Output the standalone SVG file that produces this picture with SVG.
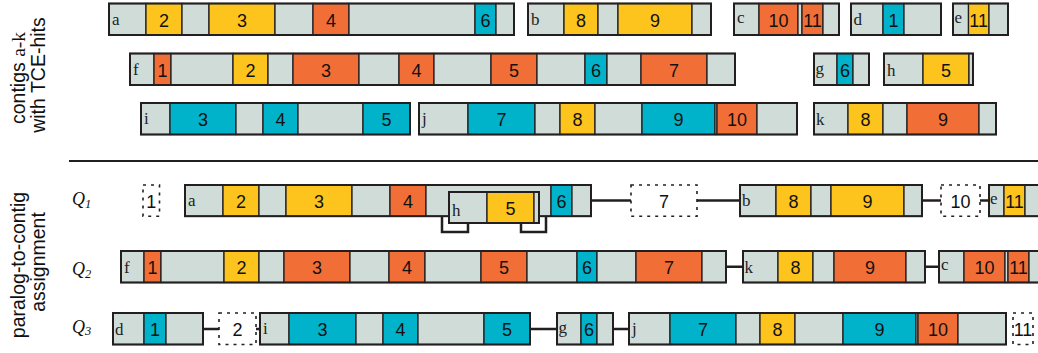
<svg xmlns="http://www.w3.org/2000/svg" width="1038" height="353" viewBox="0 0 1038 353">
<style>
rect{stroke:#231f20;stroke-width:1.3}
.g{fill:#d0dcd8}.y{fill:#fdc41e}.o{fill:#f26e37}.c{fill:#00b3cb}
.out{fill:none;stroke:#231f20;stroke-width:2}
.dot{fill:none;stroke:#231f20;stroke-width:1.6;stroke-dasharray:3 5}
.n{font-family:"Liberation Sans",Arial,sans-serif;font-size:18px;fill:#111;text-anchor:middle}
.l{font-family:"Liberation Serif","Times New Roman",serif;font-size:17px;fill:#222}
.side{font-family:"Liberation Sans",Arial,sans-serif;font-size:19.5px;fill:#111;text-anchor:middle}
.q{font-family:"Liberation Serif","Times New Roman",serif;font-style:italic;font-size:18px;fill:#111}
.con{stroke:#231f20;stroke-width:2.5;fill:none}
</style>
<g id="labels">
<text class="side" transform="translate(24.5,78) rotate(-90)">contigs <tspan font-family="Liberation Serif, serif">a-k</tspan></text>
<text class="side" transform="translate(45,75) rotate(-90)">with TCE-hits</text>
<text class="side" transform="translate(24.5,265) rotate(-90)">paralog-to-contig</text>
<text class="side" transform="translate(44.5,262) rotate(-90)">assignment</text>
<text class="q" x="72" y="205">Q<tspan font-size="12.5" dy="2.5">1</tspan></text>
<text class="q" x="72" y="275">Q<tspan font-size="12.5" dy="2.5">2</tspan></text>
<text class="q" x="72" y="332.5">Q<tspan font-size="12.5" dy="2.5">3</tspan></text>
</g>
<line x1="69" y1="161" x2="1038" y2="161" stroke="#231f20" stroke-width="2"/>

<!-- Row 1 -->
<g id="top-a">
<rect class="g" x="109" y="3.5" width="37" height="31.5"/><rect class="y" x="146" y="3.5" width="36" height="31.5"/><rect class="g" x="182" y="3.5" width="27" height="31.5"/><rect class="y" x="209" y="3.5" width="66" height="31.5"/><rect class="g" x="275" y="3.5" width="38" height="31.5"/><rect class="o" x="313" y="3.5" width="36" height="31.5"/><rect class="g" x="349" y="3.5" width="126" height="31.5"/><rect class="c" x="475" y="3.5" width="21" height="31.5"/><rect class="g" x="496" y="3.5" width="18" height="31.5"/>
<rect class="out" x="109" y="3.5" width="405" height="31.5"/>
<text class="l" x="112" y="24.5">a</text><text class="n" x="164" y="26.5">2</text><text class="n" x="242" y="26.5">3</text><text class="n" x="331" y="26.5">4</text><text class="n" x="485.5" y="26.5">6</text>
</g>
<g id="top-b">
<rect class="g" x="528" y="3.5" width="36" height="31.5"/><rect class="y" x="564" y="3.5" width="34" height="31.5"/><rect class="g" x="598" y="3.5" width="20" height="31.5"/><rect class="y" x="618" y="3.5" width="74" height="31.5"/><rect class="g" x="692" y="3.5" width="19" height="31.5"/>
<rect class="out" x="528" y="3.5" width="183" height="31.5"/>
<text class="l" x="531" y="24.5">b</text><text class="n" x="581" y="26.5">8</text><text class="n" x="655" y="26.5">9</text>
</g>
<g id="top-c">
<rect class="g" x="734" y="3.5" width="25" height="31.5"/><rect class="o" x="759" y="3.5" width="39" height="31.5"/><rect class="g" x="798" y="3.5" width="4" height="31.5"/><rect class="o" x="802" y="3.5" width="21" height="31.5"/><rect class="g" x="823" y="3.5" width="16" height="31.5"/>
<rect class="out" x="734" y="3.5" width="105" height="31.5"/>
<text class="l" x="737" y="22.5">c</text><text class="n" x="778.5" y="26.5">10</text><text class="n" x="812.5" y="26.5">11</text>
</g>
<g id="top-d">
<rect class="g" x="851" y="3.5" width="32" height="31.5"/><rect class="c" x="883" y="3.5" width="21" height="31.5"/><rect class="g" x="904" y="3.5" width="37" height="31.5"/>
<rect class="out" x="851" y="3.5" width="90" height="31.5"/>
<text class="l" x="853.5" y="24.5">d</text><text class="n" x="893.5" y="26.5">1</text>
</g>
<g id="top-e">
<rect class="g" x="953" y="3.5" width="15.5" height="31.5"/><rect class="y" x="968.5" y="3.5" width="20.5" height="31.5"/><rect class="g" x="989" y="3.5" width="19" height="31.5"/>
<rect class="out" x="953" y="3.5" width="55" height="31.5"/>
<text class="l" x="954.5" y="22.5">e</text><text class="n" x="978.7" y="26.5">11</text>
</g>

<!-- Row 2 -->
<g id="top-f">
<rect class="g" x="130" y="53.5" width="24" height="31.5"/><rect class="o" x="154" y="53.5" width="17" height="31.5"/><rect class="g" x="171" y="53.5" width="62" height="31.5"/><rect class="y" x="233" y="53.5" width="35" height="31.5"/><rect class="g" x="268" y="53.5" width="25" height="31.5"/><rect class="o" x="293" y="53.5" width="66" height="31.5"/><rect class="g" x="359" y="53.5" width="40" height="31.5"/><rect class="o" x="399" y="53.5" width="35" height="31.5"/><rect class="g" x="434" y="53.5" width="57" height="31.5"/><rect class="o" x="491" y="53.5" width="46" height="31.5"/><rect class="g" x="537" y="53.5" width="48" height="31.5"/><rect class="c" x="585" y="53.5" width="22" height="31.5"/><rect class="g" x="607" y="53.5" width="34" height="31.5"/><rect class="o" x="641" y="53.5" width="66" height="31.5"/><rect class="g" x="707" y="53.5" width="28" height="31.5"/>
<rect class="out" x="130" y="53.5" width="605" height="31.5"/>
<text class="l" x="133" y="75">f</text><text class="n" x="162.5" y="76.5">1</text><text class="n" x="250.5" y="76.5">2</text><text class="n" x="326" y="76.5">3</text><text class="n" x="416.5" y="76.5">4</text><text class="n" x="514" y="76.5">5</text><text class="n" x="596" y="76.5">6</text><text class="n" x="674" y="76.5">7</text>
</g>
<g id="top-g">
<rect class="g" x="814" y="53.5" width="23" height="31.5"/><rect class="c" x="837" y="53.5" width="16" height="31.5"/><rect class="g" x="853" y="53.5" width="16" height="31.5"/>
<rect class="out" x="814" y="53.5" width="55" height="31.5"/>
<text class="l" x="815.5" y="73.5">g</text><text class="n" x="845" y="76.5">6</text>
</g>
<g id="top-h">
<rect class="g" x="884" y="53.5" width="39" height="31.5"/><rect class="y" x="923" y="53.5" width="46" height="31.5"/><rect class="g" x="969" y="53.5" width="4" height="31.5"/>
<rect class="out" x="884" y="53.5" width="89" height="31.5"/>
<text class="l" x="887" y="76">h</text><text class="n" x="946" y="76.5">5</text>
</g>

<!-- Row 3 -->
<g id="top-i">
<rect class="g" x="141" y="103" width="29" height="31.5"/><rect class="c" x="170" y="103" width="66" height="31.5"/><rect class="g" x="236" y="103" width="27" height="31.5"/><rect class="c" x="263" y="103" width="35" height="31.5"/><rect class="g" x="298" y="103" width="65" height="31.5"/><rect class="c" x="363" y="103" width="47" height="31.5"/>
<rect class="out" x="141" y="103" width="269" height="31.5"/>
<text class="l" x="144" y="124">i</text><text class="n" x="203" y="126">3</text><text class="n" x="280.5" y="126">4</text><text class="n" x="386.5" y="126">5</text>
</g>
<g id="top-j">
<rect class="g" x="419" y="103" width="49" height="31.5"/><rect class="c" x="468" y="103" width="67" height="31.5"/><rect class="g" x="535" y="103" width="25" height="31.5"/><rect class="y" x="560" y="103" width="35" height="31.5"/><rect class="g" x="595" y="103" width="47" height="31.5"/><rect class="c" x="642" y="103" width="73" height="31.5"/><rect class="g" x="715" y="103" width="2" height="31.5"/><rect class="o" x="717" y="103" width="40" height="31.5"/><rect class="g" x="757" y="103" width="40" height="31.5"/>
<rect class="out" x="419" y="103" width="378" height="31.5"/>
<text class="l" x="422" y="124">j</text><text class="n" x="501.5" y="126">7</text><text class="n" x="577.5" y="126">8</text><text class="n" x="678.5" y="126">9</text><text class="n" x="737" y="126">10</text>
</g>
<g id="top-k">
<rect class="g" x="814" y="103" width="34" height="31.5"/><rect class="y" x="848" y="103" width="35" height="31.5"/><rect class="g" x="883" y="103" width="24" height="31.5"/><rect class="o" x="907" y="103" width="72" height="31.5"/><rect class="g" x="979" y="103" width="17" height="31.5"/>
<rect class="out" x="814" y="103" width="182" height="31.5"/>
<text class="l" x="816" y="125">k</text><text class="n" x="865.5" y="126">8</text><text class="n" x="943" y="126">9</text>
</g>

<!-- Connectors -->
<g id="connectors">
<path class="con" d="M591,200.5H631M697,200.5H740M922,200.5H941M980,200.5H989"/>
<path class="con" d="M726,266.8H743M925,266.8H939"/>
<path class="con" d="M203,329H219M256,329H260M530,329H557M613,329H629"/>
<path class="con" d="M442,216.2V232H468V223M521,223V232H546V216.2"/>
</g>

<!-- Q1 -->
<g id="q1-1"><rect class="dot" x="143" y="185" width="16.5" height="31.2"/><text class="n" x="151.3" y="207.5">1</text></g>
<g id="q1-a">
<rect class="g" x="185" y="185" width="38" height="31.2"/><rect class="y" x="223" y="185" width="36" height="31.2"/><rect class="g" x="259" y="185" width="27" height="31.2"/><rect class="y" x="286" y="185" width="66" height="31.2"/><rect class="g" x="352" y="185" width="38" height="31.2"/><rect class="o" x="390" y="185" width="36" height="31.2"/><rect class="g" x="426" y="185" width="125" height="31.2"/><rect class="c" x="551" y="185" width="21" height="31.2"/><rect class="g" x="572" y="185" width="19" height="31.2"/>
<rect class="out" x="185" y="185" width="406" height="31.2"/>
<text class="l" x="188" y="205.5">a</text><text class="n" x="241" y="207.5">2</text><text class="n" x="319" y="207.5">3</text><text class="n" x="408" y="207.5">4</text><text class="n" x="561.5" y="207.5">6</text>
</g>
<g id="q1-h">
<rect class="g" x="449" y="192" width="38" height="31"/><rect class="y" x="487" y="192" width="47" height="31"/><rect class="g" x="534" y="192" width="5" height="31"/>
<rect class="out" x="449" y="192" width="90" height="31"/>
<text class="l" x="452" y="216">h</text><text class="n" x="510.5" y="215">5</text>
</g>
<g id="q1-7"><rect class="dot" x="631" y="185" width="66" height="31.2"/><text class="n" x="664" y="207.5">7</text></g>
<g id="q1-b">
<rect class="g" x="740" y="185" width="36" height="31.2"/><rect class="y" x="776" y="185" width="35" height="31.2"/><rect class="g" x="811" y="185" width="20" height="31.2"/><rect class="y" x="831" y="185" width="73" height="31.2"/><rect class="g" x="904" y="185" width="18" height="31.2"/>
<rect class="out" x="740" y="185" width="182" height="31.2"/>
<text class="l" x="742" y="205.5">b</text><text class="n" x="793.5" y="207.5">8</text><text class="n" x="867.5" y="207.5">9</text>
</g>
<g id="q1-10"><rect class="dot" x="941" y="185" width="39" height="31.2"/><text class="n" x="960.5" y="207.5">10</text></g>
<g id="q1-e">
<rect class="g" x="989" y="185" width="15" height="31.2"/><rect class="y" x="1004" y="185" width="21" height="31.2"/><rect class="g" x="1025" y="185" width="20" height="31.2"/>
<rect class="out" x="989" y="185" width="56" height="31.2"/>
<text class="l" x="990" y="203.5">e</text><text class="n" x="1014.5" y="207.5">11</text>
</g>

<!-- Q2 -->
<g id="q2-f">
<rect class="g" x="121" y="251" width="23" height="31.5"/><rect class="o" x="144" y="251" width="17" height="31.5"/><rect class="g" x="161" y="251" width="63" height="31.5"/><rect class="y" x="224" y="251" width="35" height="31.5"/><rect class="g" x="259" y="251" width="25" height="31.5"/><rect class="o" x="284" y="251" width="66" height="31.5"/><rect class="g" x="350" y="251" width="39" height="31.5"/><rect class="o" x="389" y="251" width="36" height="31.5"/><rect class="g" x="425" y="251" width="56" height="31.5"/><rect class="o" x="481" y="251" width="46" height="31.5"/><rect class="g" x="527" y="251" width="50" height="31.5"/><rect class="c" x="577" y="251" width="20" height="31.5"/><rect class="g" x="597" y="251" width="39" height="31.5"/><rect class="o" x="636" y="251" width="66" height="31.5"/><rect class="g" x="702" y="251" width="24" height="31.5"/>
<rect class="out" x="121" y="251" width="605" height="31.5"/>
<text class="l" x="124" y="273">f</text><text class="n" x="152.5" y="274">1</text><text class="n" x="241.5" y="274">2</text><text class="n" x="317" y="274">3</text><text class="n" x="407" y="274">4</text><text class="n" x="504" y="274">5</text><text class="n" x="587" y="274">6</text><text class="n" x="669" y="274">7</text>
</g>
<g id="q2-k">
<rect class="g" x="743" y="251" width="35" height="31.5"/><rect class="y" x="778" y="251" width="35" height="31.5"/><rect class="g" x="813" y="251" width="21" height="31.5"/><rect class="o" x="834" y="251" width="72" height="31.5"/><rect class="g" x="906" y="251" width="19" height="31.5"/>
<rect class="out" x="743" y="251" width="182" height="31.5"/>
<text class="l" x="744.5" y="273">k</text><text class="n" x="795.5" y="274">8</text><text class="n" x="870" y="274">9</text>
</g>
<g id="q2-c">
<rect class="g" x="939" y="251" width="25" height="31.5"/><rect class="o" x="964" y="251" width="41" height="31.5"/><rect class="g" x="1005" y="251" width="3" height="31.5"/><rect class="o" x="1008" y="251" width="21" height="31.5"/><rect class="g" x="1029" y="251" width="16" height="31.5"/>
<rect class="out" x="939" y="251" width="106" height="31.5"/>
<text class="l" x="941" y="270">c</text><text class="n" x="984.5" y="274">10</text><text class="n" x="1018.5" y="274">11</text>
</g>

<!-- Q3 -->
<g id="q3-d">
<rect class="g" x="113" y="313" width="31" height="31.5"/><rect class="c" x="144" y="313" width="22" height="31.5"/><rect class="g" x="166" y="313" width="37" height="31.5"/>
<rect class="out" x="113" y="313" width="90" height="31.5"/>
<text class="l" x="115" y="335">d</text><text class="n" x="155" y="336">1</text>
</g>
<g id="q3-2"><rect class="dot" x="219" y="313" width="37" height="31.5"/><text class="n" x="237.5" y="336">2</text></g>
<g id="q3-i">
<rect class="g" x="260" y="313" width="29" height="31.5"/><rect class="c" x="289" y="313" width="67" height="31.5"/><rect class="g" x="356" y="313" width="27" height="31.5"/><rect class="c" x="383" y="313" width="35" height="31.5"/><rect class="g" x="418" y="313" width="66" height="31.5"/><rect class="c" x="484" y="313" width="46" height="31.5"/>
<rect class="out" x="260" y="313" width="270" height="31.5"/>
<text class="l" x="263" y="333.5">i</text><text class="n" x="322.5" y="336">3</text><text class="n" x="400.5" y="336">4</text><text class="n" x="507" y="336">5</text>
</g>
<g id="q3-g">
<rect class="g" x="557" y="313" width="24" height="31.5"/><rect class="c" x="581" y="313" width="16" height="31.5"/><rect class="g" x="597" y="313" width="16" height="31.5"/>
<rect class="out" x="557" y="313" width="56" height="31.5"/>
<text class="l" x="558.5" y="332.5">g</text><text class="n" x="589" y="336">6</text>
</g>
<g id="q3-j">
<rect class="g" x="629" y="313" width="41" height="31.5"/><rect class="c" x="670" y="313" width="66" height="31.5"/><rect class="g" x="736" y="313" width="24" height="31.5"/><rect class="y" x="760" y="313" width="35" height="31.5"/><rect class="g" x="795" y="313" width="48" height="31.5"/><rect class="c" x="843" y="313" width="73" height="31.5"/><rect class="g" x="916" y="313" width="2" height="31.5"/><rect class="o" x="918" y="313" width="40" height="31.5"/><rect class="g" x="958" y="313" width="48" height="31.5"/>
<rect class="out" x="629" y="313" width="377" height="31.5"/>
<text class="l" x="632" y="334">j</text><text class="n" x="703" y="336">7</text><text class="n" x="777.5" y="336">8</text><text class="n" x="879.5" y="336">9</text><text class="n" x="938" y="336">10</text>
</g>
<g id="q3-11"><rect class="dot" x="1013" y="313" width="20" height="31.5"/><text class="n" x="1023" y="336">11</text></g>
</svg>
